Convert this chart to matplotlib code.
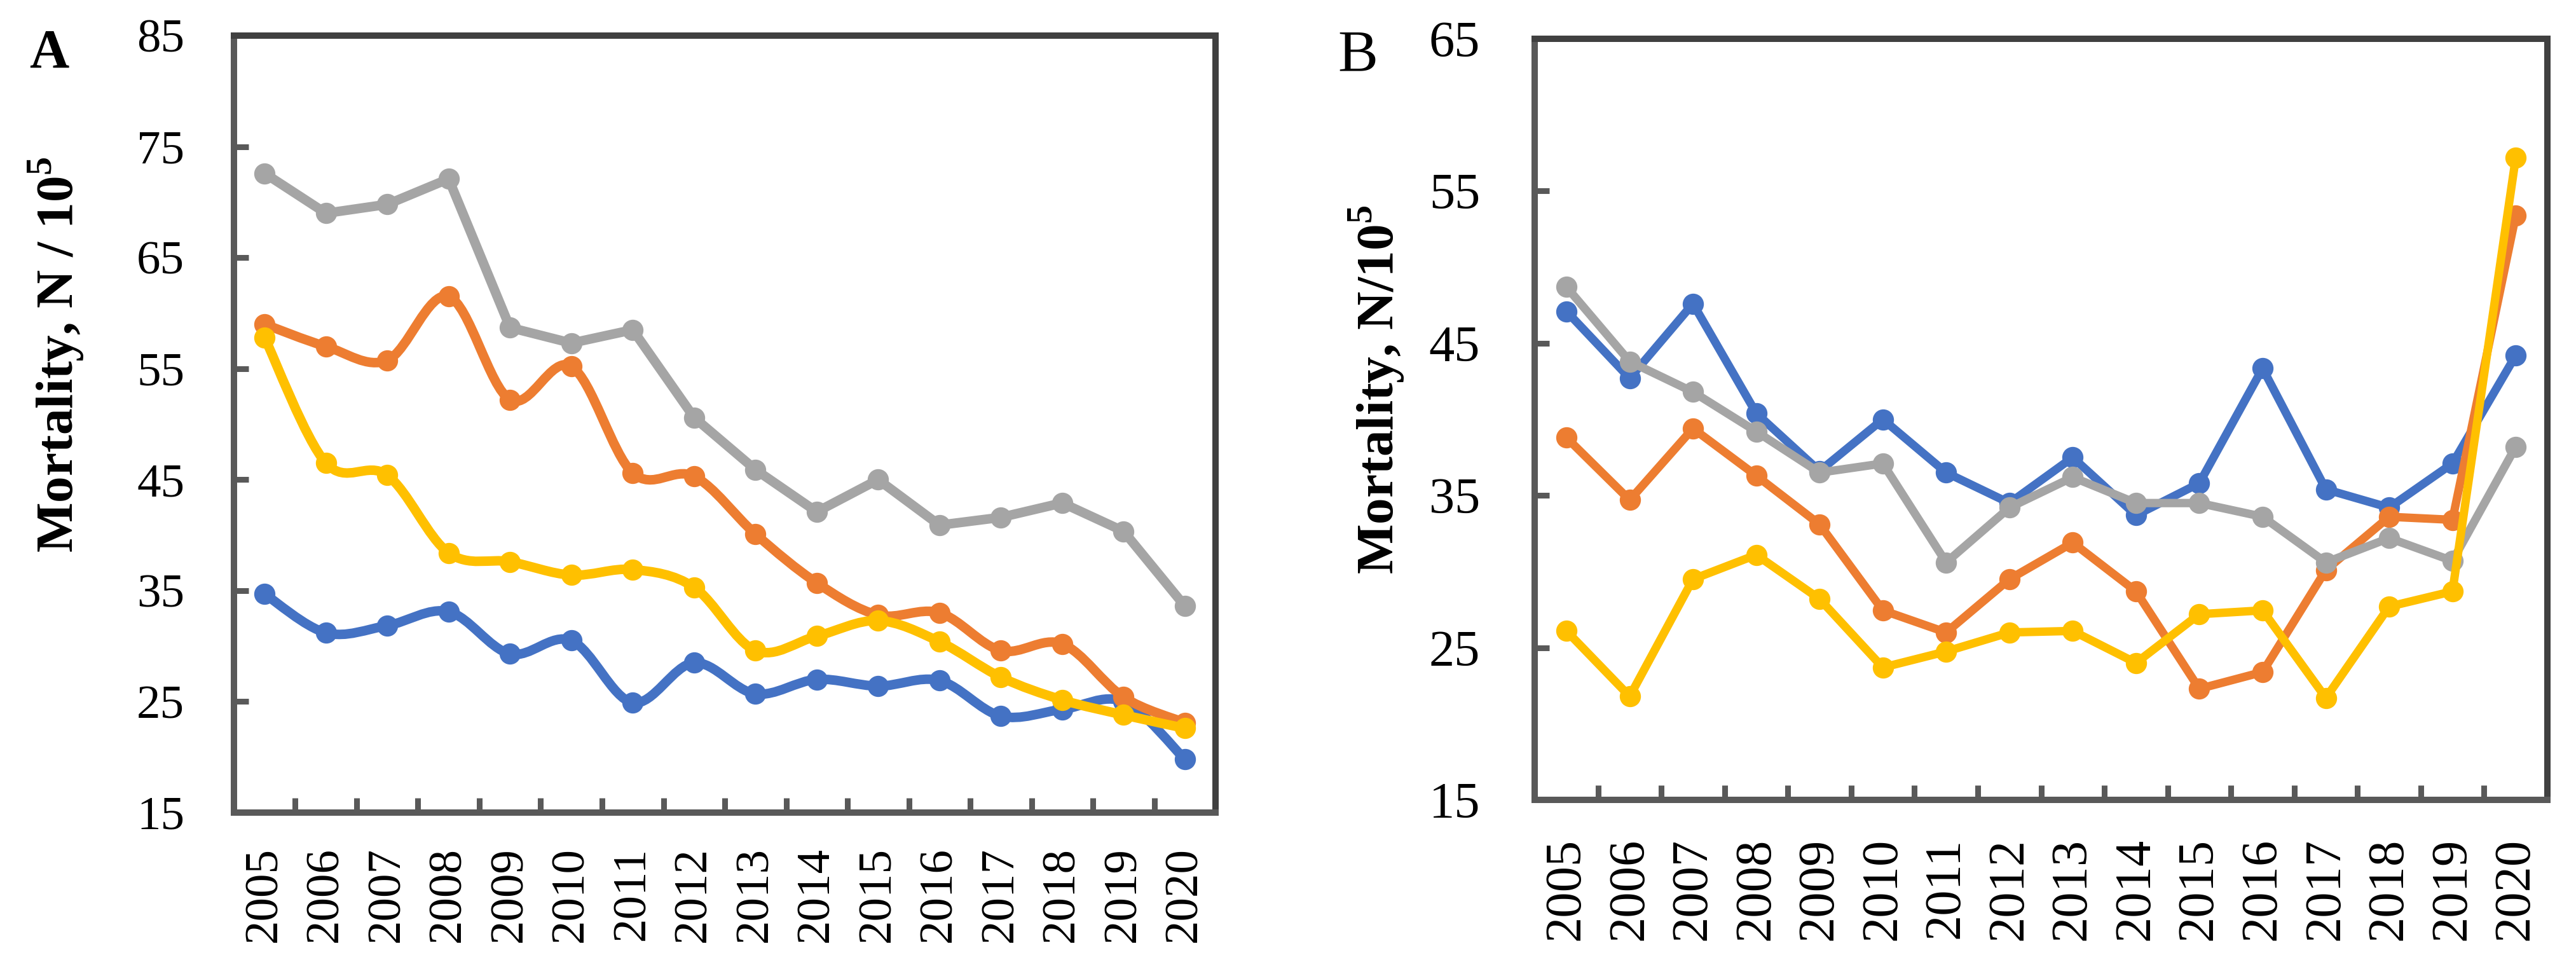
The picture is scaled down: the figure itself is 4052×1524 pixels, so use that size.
import numpy as np
import matplotlib
matplotlib.use('Agg')
import matplotlib.pyplot as plt
from matplotlib import font_manager
from matplotlib.path import Path
from matplotlib.patches import PathPatch
from matplotlib.ticker import FixedLocator

# pick a Times-like serif that is really installed
installed = sorted({f.name for f in font_manager.fontManager.ttflist})
serif = 'DejaVu Serif'
for cand in ['Liberation Serif', 'Tinos', 'Times New Roman', 'Nimbus Roman', 'FreeSerif', 'Noto Serif']:
    hit = [n for n in installed if n.startswith(cand)]
    if hit:
        serif = hit[0]
        break

plt.rcParams['font.family'] = [serif, 'DejaVu Serif']
plt.rcParams['mathtext.fontset'] = 'custom'
plt.rcParams['mathtext.rm'] = serif + ':bold'
plt.rcParams['mathtext.bf'] = serif + ':bold'

years = [str(y) for y in range(2005, 2021)]

# panel A
a_blue = [34.7, 31.2, 31.85, 33.1, 29.3, 30.5, 24.9, 28.5, 25.7, 27.0, 26.4, 26.9, 23.7, 24.3, 25.0, 19.8]
a_orange = [59.0, 57.0, 55.75, 61.5, 52.2, 55.2, 45.6, 45.3, 40.1, 35.7, 32.8, 33.0, 29.6, 30.2, 25.4, 23.1]
a_gray = [72.6, 69.0, 69.8, 72.1, 58.7, 57.3, 58.5, 50.6, 45.9, 42.1, 45.0, 40.9, 41.6, 42.9, 40.35, 33.6]
a_yellow = [57.8, 46.5, 45.4, 38.4, 37.6, 36.4, 36.9, 35.3, 29.6, 30.9, 32.3, 30.4, 27.2, 25.15, 23.8, 22.6]

# panel B
b_blue = [47.1, 42.7, 47.6, 40.4, 36.6, 40.0, 36.5, 34.5, 37.5, 33.7, 35.8, 43.35, 35.4, 34.2, 37.1, 44.2]
b_orange = [38.8, 34.7, 39.4, 36.3, 33.1, 27.45, 26.0, 29.5, 31.9, 28.7, 22.3, 23.4, 30.1, 33.6, 33.4, 53.4]
b_gray = [48.7, 43.8, 41.8, 39.2, 36.5, 37.1, 30.6, 34.2, 36.2, 34.5, 34.5, 33.6, 30.6, 32.2, 30.7, 38.2]
b_yellow = [26.1, 21.8, 29.5, 31.1, 28.2, 23.7, 24.75, 26.0, 26.1, 24.0, 27.2, 27.45, 21.7, 27.7, 28.7, 57.2]

colors = ['#4472C4', '#ED7D31', '#A5A5A5', '#FFC000']


def smooth_path(x, y):
    pts = np.column_stack([x, y]).astype(float)
    n = len(pts)
    verts = [pts[0]]
    codes = [Path.MOVETO]
    for i in range(n - 1):
        p0 = pts[i - 1] if i > 0 else pts[i]
        p1 = pts[i]
        p2 = pts[i + 1]
        p3 = pts[i + 2] if i + 2 < n else pts[i + 1]
        c1 = p1 + (p2 - p0) / 6.0
        c2 = p2 - (p3 - p1) / 6.0
        verts += [c1, c2, p2]
        codes += [Path.CURVE4] * 3
    return Path(verts, codes)


def setup_axes(ax, ymin, ymax, tick_fs, ypad, xpad):
    ax.set_xlim(-0.5, len(years) - 0.5)
    ax.set_ylim(ymin, ymax)
    ax.set_yticks(np.arange(ymin, ymax + 1, 10))
    ax.set_xticks(np.arange(len(years)))
    ax.set_xticklabels(years, rotation=90)
    ax.xaxis.set_minor_locator(FixedLocator(np.arange(0.5, len(years) - 1, 1.0)))
    ax.tick_params(axis='x', which='major', length=0, labelsize=tick_fs, pad=xpad)
    ax.tick_params(axis='x', which='minor', direction='in', length=16.5, width=6.5,
                   color='#595959')
    ax.tick_params(axis='y', which='major', direction='in', length=16.5, width=6.5,
                   color='#595959', labelsize=tick_fs, pad=ypad)
    for s in ['left', 'bottom']:
        ax.spines[s].set_color('#595959')
        ax.spines[s].set_linewidth(7.2)
    for s in ['top', 'right']:
        ax.spines[s].set_color('#404040')
        ax.spines[s].set_linewidth(7.2)


fig = plt.figure(figsize=(40.52, 15.24), dpi=100)
axA = fig.add_axes([0.0908, 0.1614, 0.3811, 0.8018])
axB = fig.add_axes([0.5958, 0.1745, 0.3931, 0.7855])

x = np.arange(len(years))

# A: gray straight, others smoothed
seriesA = [a_blue, a_orange, a_gray, a_yellow]
smoothA = [True, True, False, True]
for i, (vals, sm) in enumerate(zip(seriesA, smoothA)):
    z = 3 + i
    if sm:
        patch = PathPatch(smooth_path(x, vals), fill=False, edgecolor=colors[i], lw=10.8,
                          capstyle='round', joinstyle='round', zorder=z)
        axA.add_patch(patch)
    else:
        axA.plot(x, vals, '-', color=colors[i], lw=10.8, solid_joinstyle='round',
                 solid_capstyle='round', zorder=z)
    axA.plot(x, vals, 'o', color=colors[i], ms=23, mec=colors[i], zorder=z + 0.5)

seriesB = [b_blue, b_orange, b_gray, b_yellow]
for i, vals in enumerate(seriesB):
    z = 3 + i
    axB.plot(x, vals, '-', color=colors[i], lw=9.5, solid_joinstyle='round',
             solid_capstyle='round', zorder=z)
    axB.plot(x, vals, 'o', color=colors[i], ms=23, mec=colors[i], zorder=z + 0.5)

setup_axes(axA, 15, 85, 54, 56, 39)
setup_axes(axB, 15, 65, 58, 62, 43)

fig.text(0.022, 0.634, r'Mortality, N / 10$^{5}$', rotation=90, fontsize=60,
         fontweight='bold', ha='center', va='center')
fig.text(0.5345, 0.598, r'Mortality, N/10$^{5}$', rotation=90, fontsize=60,
         fontweight='bold', ha='center', va='center')
fig.text(0.019, 0.944, 'A', fontsize=62, fontweight='bold', ha='center', va='center')
fig.text(0.527, 0.942, 'B', fontsize=68, ha='center', va='center')

fig.savefig('out.png', dpi=100)
